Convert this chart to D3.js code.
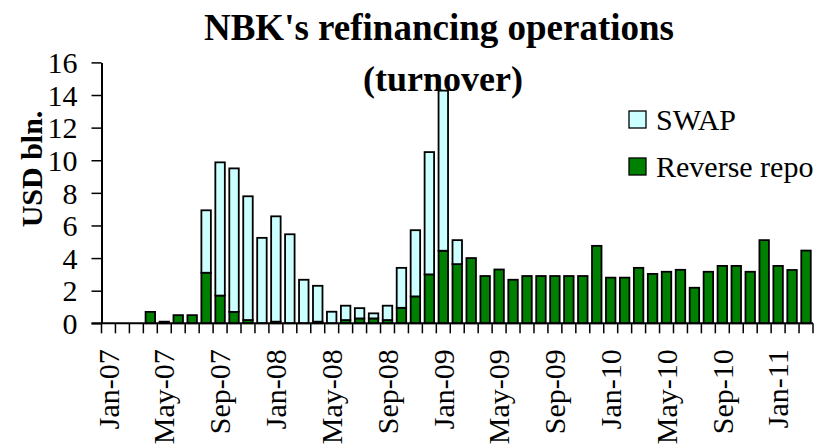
<!DOCTYPE html>
<html>
<head>
<meta charset="utf-8">
<script src="https://cdn.jsdelivr.net/npm/d3@7/dist/d3.min.js"></script>
<style>
  body { margin: 0; background: #fff; }
  text { font-family: "Liberation Serif", "Times New Roman", serif; fill: #000; }
</style>
</head>
<body>
<svg></svg>
<script>
var w = 820,
    h = 445;

// months Jan-07 .. Mar-11
var months = ["Jan-07","Feb-07","Mar-07","Apr-07","May-07","Jun-07","Jul-07","Aug-07","Sep-07","Oct-07","Nov-07","Dec-07",
              "Jan-08","Feb-08","Mar-08","Apr-08","May-08","Jun-08","Jul-08","Aug-08","Sep-08","Oct-08","Nov-08","Dec-08",
              "Jan-09","Feb-09","Mar-09","Apr-09","May-09","Jun-09","Jul-09","Aug-09","Sep-09","Oct-09","Nov-09","Dec-09",
              "Jan-10","Feb-10","Mar-10","Apr-10","May-10","Jun-10","Jul-10","Aug-10","Sep-10","Oct-10","Nov-10","Dec-10",
              "Jan-11","Feb-11","Mar-11"];

var reverseRepo = [0, 0, 0, 0.7, 0.1, 0.5, 0.5, 3.1, 1.7, 0.7, 0.2, 0,
                   0.1, 0, 0, 0.1, 0, 0.2, 0.3, 0.3, 0.2, 0.95, 1.65, 3.0,
                   4.45, 3.63, 4.0, 2.9, 3.3, 2.67, 2.9, 2.9, 2.9, 2.9, 2.9, 4.75,
                   2.8, 2.8, 3.4, 3.03, 3.16, 3.28, 2.18, 3.16, 3.52, 3.52, 3.16, 5.1,
                   3.52, 3.27, 4.46];

var swap = [0, 0, 0, 0, 0, 0, 0, 3.83, 8.17, 8.8, 7.59, 5.24,
            6.46, 5.46, 2.67, 2.2, 0.71, 0.88, 0.63, 0.31, 0.88, 2.45, 4.06, 7.5,
            9.82, 1.47, 0, 0, 0, 0, 0, 0, 0, 0, 0, 0,
            0, 0, 0, 0, 0, 0, 0, 0, 0, 0, 0, 0,
            0, 0, 0];

var yTicks = [0, 2, 4, 6, 8, 10, 12, 14, 16];
var labelEvery = 4;

var seriesNames = ["Reverse repo", "SWAP"];
var colors = { "Reverse repo": "#008000", "SWAP": "#ccffff" };

var margin = { left: 101.5, right: 7, top: 62.4, bottom: 121.7 };

var svg = d3.select("svg")
  .attr("width", w)
  .attr("height", h);

svg.append("rect")
  .attr("width", w)
  .attr("height", h)
  .attr("fill", "#fff");

var table = months.map(function(m, i) {
  return { month: m, "Reverse repo": reverseRepo[i], "SWAP": swap[i] };
});

var stacked = d3.stack().keys(seriesNames)(table);

var x = d3.scaleBand()
  .domain(months)
  .range([margin.left, w - margin.right])
  .paddingInner(0.32)
  .paddingOuter(0.16);

var y = d3.scaleLinear()
  .domain([0, 16])
  .range([h - margin.bottom, margin.top]);

// title (under the bars, the Jan-09 bar touches it)
svg.append("text")
  .attr("x", 439).attr("y", 40)
  .attr("text-anchor", "middle")
  .style("font-size", "37px")
  .style("font-weight", "bold")
  .text("NBK's refinancing operations");
svg.append("text")
  .attr("x", 443).attr("y", 91)
  .attr("text-anchor", "middle")
  .style("font-size", "36px")
  .style("font-weight", "bold")
  .text("(turnover)");

var g = svg.append("g");

// bars
g.selectAll("g.series")
  .data(stacked)
  .enter()
  .append("g")
  .attr("class", "series")
  .attr("fill", function(d) { return colors[d.key]; })
  .selectAll("rect")
  .data(function(d) { return d.filter(function(p) { return p[1] - p[0] > 0; }); })
  .enter()
  .append("rect")
  .attr("x", function(d) { return x(d.data.month); })
  .attr("width", x.bandwidth())
  .attr("y", function(d) { return y(d[1]); })
  .attr("height", function(d) { return y(d[0]) - y(d[1]); })
  .attr("stroke", "#000")
  .attr("stroke-width", 1.8);

// x axis: line + ticks at category boundaries
var x0 = margin.left, x1 = w - margin.right;
var xAxis = svg.append("g");
xAxis.append("line")
  .attr("x1", x0 - 10).attr("x2", x1)
  .attr("y1", y(0)).attr("y2", y(0))
  .attr("stroke", "#000").attr("stroke-width", 2);
xAxis.selectAll("line.tick")
  .data(d3.range(months.length + 1))
  .enter()
  .append("line")
  .attr("class", "tick")
  .attr("x1", function(i) { return x0 + (x1 - x0) * i / months.length; })
  .attr("x2", function(i) { return x0 + (x1 - x0) * i / months.length; })
  .attr("y1", y(0)).attr("y2", y(0) + 10)
  .attr("stroke", "#000").attr("stroke-width", 1.5);

xAxis.selectAll("text")
  .data(months.filter(function(m, i) { return i % labelEvery === 0; }))
  .enter()
  .append("text")
  .attr("transform", function(d) {
    return "translate(" + (x(d) + x.bandwidth() / 2) + "," + (y(0) + 26) + ") rotate(-90)";
  })
  .attr("text-anchor", "end")
  .attr("dy", "0.34em")
  .style("font-size", "30px")
  .text(function(d) { return d; });

// y axis
var yAxis = svg.append("g")
  .attr("transform", "translate(" + margin.left + ",0)")
  .call(d3.axisLeft(y).tickValues(yTicks).tickSize(10).tickSizeOuter(0).tickPadding(14).tickFormat(d3.format("d")));
yAxis.select(".domain").attr("stroke-width", 2);
yAxis.selectAll(".tick line").attr("stroke-width", 1.5);
yAxis.selectAll(".tick text")
  .style("font-family", "'Liberation Serif', 'Times New Roman', serif")
  .style("font-size", "30px")
  .attr("dy", "0.34em");

svg.append("text")
  .attr("transform", "translate(" + 42 + "," + 169 + ") rotate(-90)")
  .attr("text-anchor", "middle")
  .style("font-size", "30px")
  .style("font-weight", "bold")
  .text("USD bln.");

// legend
var legend = svg.append("g").attr("transform", "translate(629,111)");
var legendItems = ["SWAP", "Reverse repo"];
legend.selectAll("rect")
  .data(legendItems)
  .enter()
  .append("rect")
  .attr("x", 0)
  .attr("y", function(d, i) { return i * 47; })
  .attr("width", 17).attr("height", 17)
  .attr("fill", function(d) { return colors[d]; })
  .attr("stroke", "#000").attr("stroke-width", 1.3);
legend.selectAll("text")
  .data(legendItems)
  .enter()
  .append("text")
  .attr("x", 27)
  .attr("y", function(d, i) { return i * 47 + 19; })
  .style("font-size", "30px")
  .text(function(d) { return d; });
</script>
</body>
</html>
